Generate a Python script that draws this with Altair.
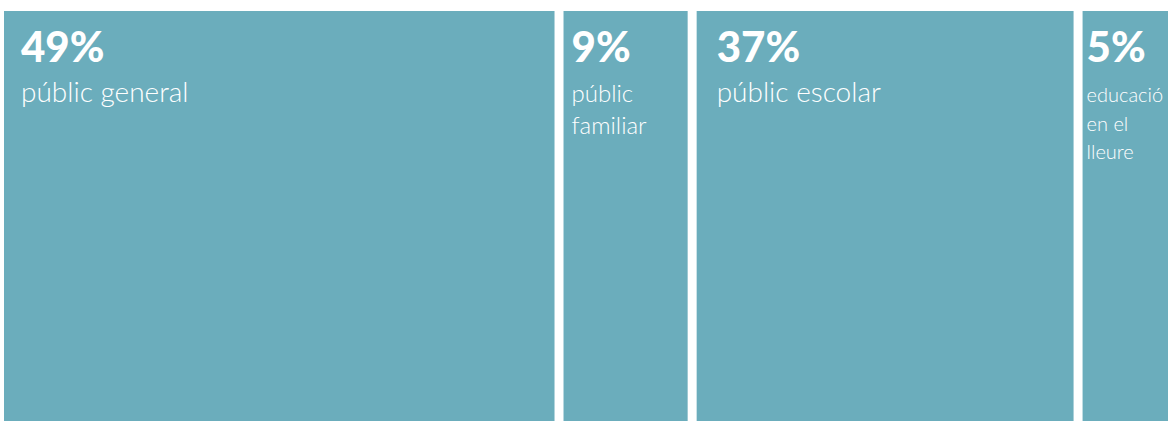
import altair as alt
import pandas as pd

# ---- data ----
categories = ["públic general", "públic familiar", "públic escolar", "educació en el lleure"]
percents = [49, 9, 37, 5]
label_lines = [["públic general"], ["públic", "familiar"], ["públic escolar"], ["educació", "en el", "lleure"]]
column_share = [47.7, 11.35, 32.9, 8.05]  # share of the row width each block takes in the picture

starts = []
acc = 0.0
for s in column_share:
    starts.append(acc)
    acc += s

df = pd.DataFrame({
    "category": categories,
    "percent": percents,
    "pct_label": [f"{p}%" for p in percents],
    "label": ["\n".join(l) for l in label_lines],
    "start": starts,
    "end": [a + s for a, s in zip(starts, column_share)],
})

FILL = "#6badbc"
GAP = 9
x_scale = alt.Scale(domain=[0, 100], range=[0, 1164 + GAP], nice=False, zero=False)

base = alt.Chart(df)

rects = base.mark_rect(color=FILL, x2Offset=-GAP).encode(
    x=alt.X("start:Q", scale=x_scale, axis=None),
    x2="end:Q",
)

# text style per block (padding, label size, line height)
styles = {
    "públic general": dict(dx=17, size=28, lh=32),
    "públic familiar": dict(dx=8, size=24, lh=32),
    "públic escolar": dict(dx=20, size=28, lh=32),
    "educació en el lleure": dict(dx=4, size=20, lh=28.5),
}

layers = [rects]
for cat in categories:
    st = styles[cat]
    sub = base.transform_filter(alt.datum.category == cat)
    pct = sub.mark_text(
        align="left", baseline="alphabetic", dx=st["dx"], font="Lato",
        fontWeight=900, fontSize=42, color="white",
    ).encode(
        x=alt.X("start:Q", scale=x_scale, axis=None),
        y=alt.value(51),
        text="pct_label:N",
    )
    lab = sub.mark_text(
        align="left", baseline="alphabetic", dx=st["dx"], font="Lato",
        fontWeight=300, fontSize=st["size"], lineBreak="\n",
        lineHeight=st["lh"], color="white",
    ).encode(
        x=alt.X("start:Q", scale=x_scale, axis=None),
        y=alt.value(91),
        text="label:N",
    )
    layers += [pct, lab]

chart = alt.layer(*layers).properties(
    width=1164,
    height=410,
    padding={"left": 4, "top": 11, "right": 0, "bottom": 0},
    autosize=alt.AutoSizeParams(type="none"),
    background="white",
).configure_view(stroke=None)

chart.save("out.html", embed_options={"renderer": "svg", "actions": False})
